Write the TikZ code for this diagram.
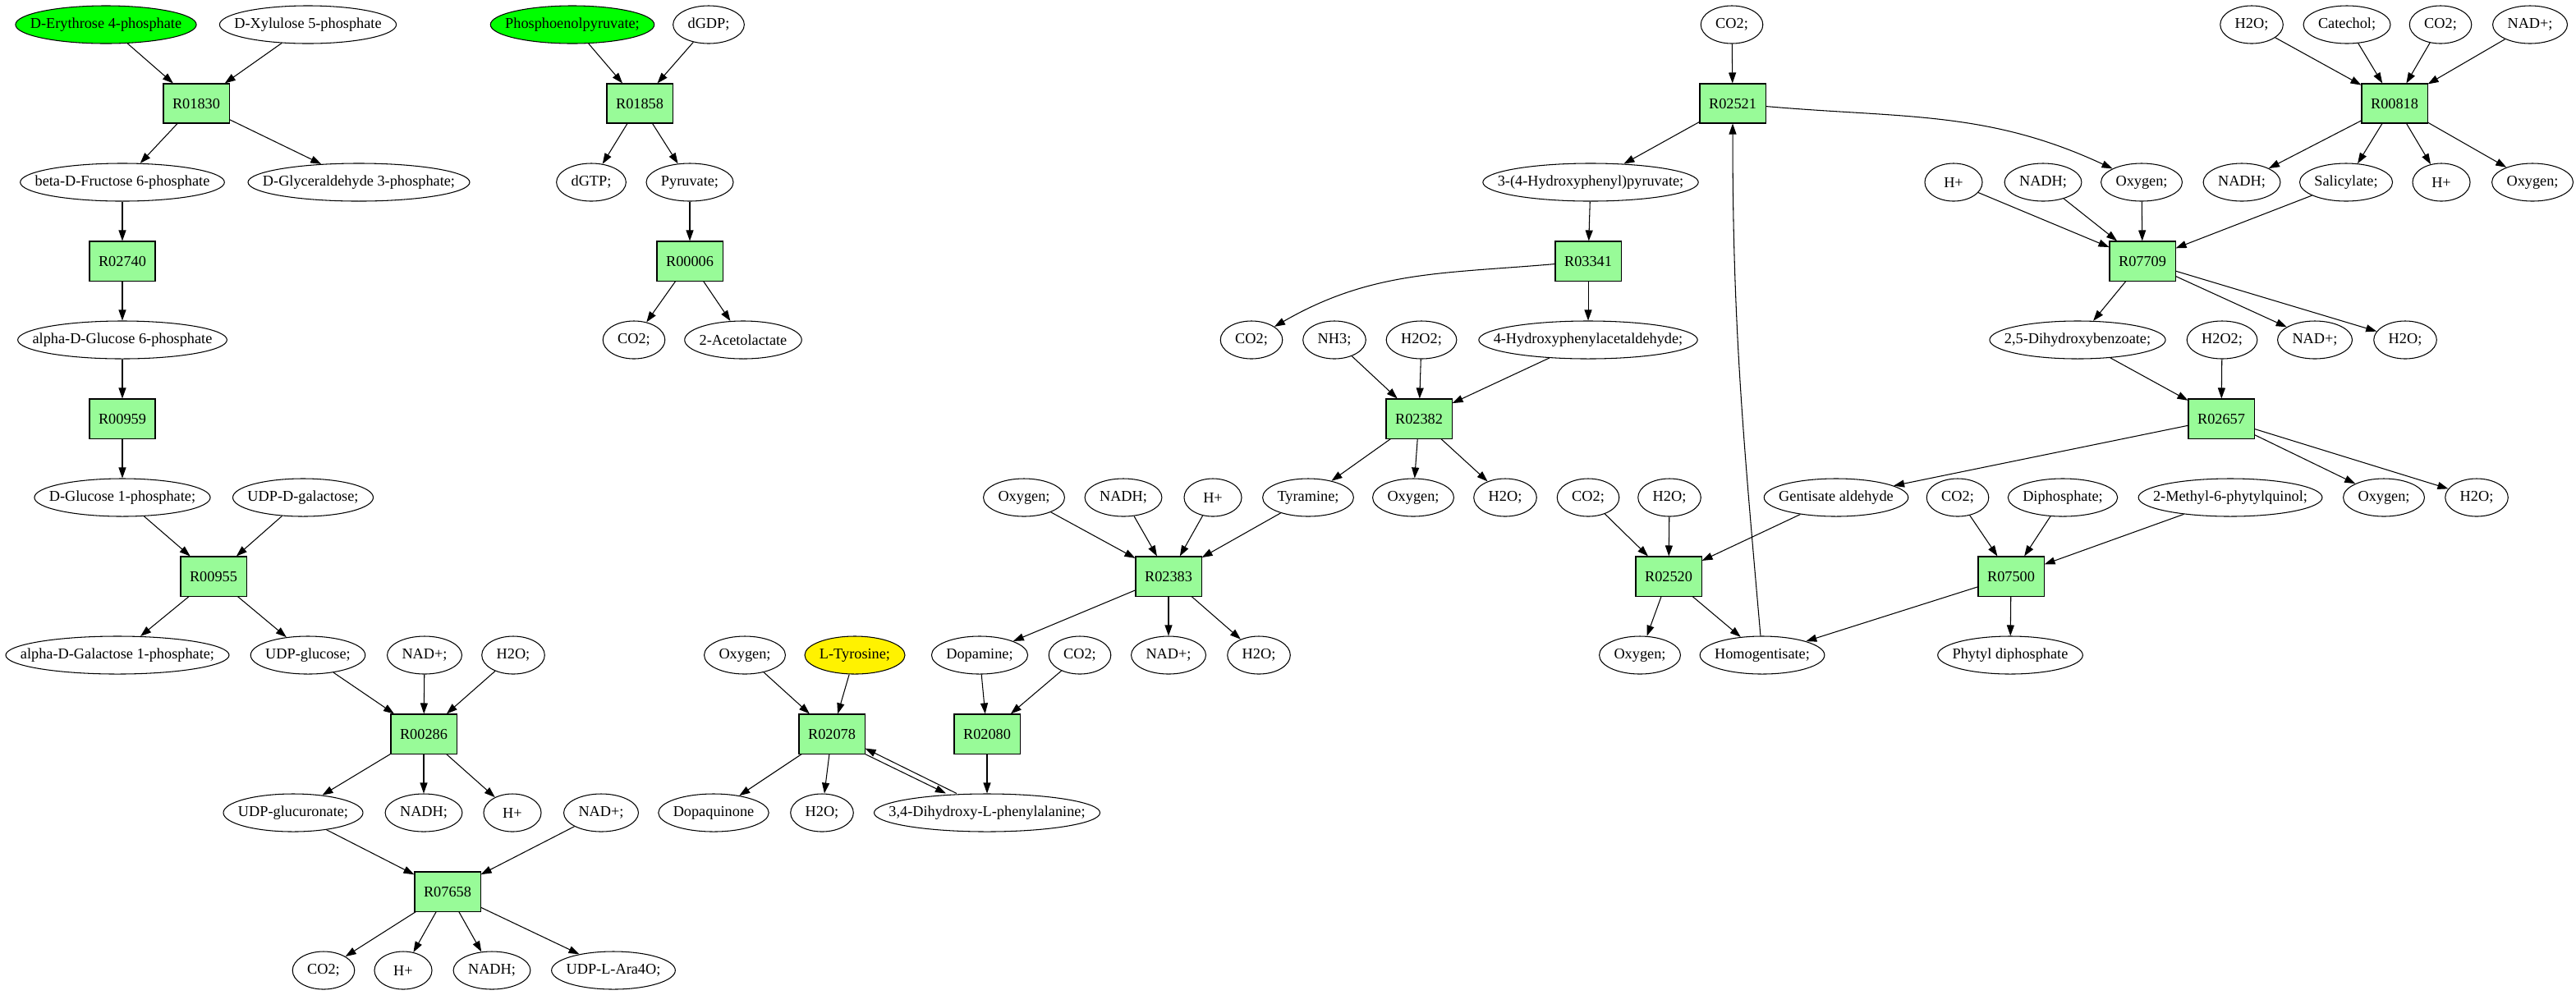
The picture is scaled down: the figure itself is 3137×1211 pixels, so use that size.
\documentclass[tikz,border=0pt]{standalone}
\usepackage{fontspec}
\setmainfont{Liberation Serif}
\usetikzlibrary{arrows.meta,shapes.geometric}
\definecolor{palegreen}{RGB}{152,251,152}
\newsavebox\lblbox

\begin{document}
\begin{tikzpicture}[->,>={Triangle[length=0.13cm,width=0.09cm]},x=0.01cm,y=-0.01cm,line width=0.3pt,
    font=\fontsize{5.2pt}{6pt}\selectfont,
    met/.style={ellipse,draw,minimum width=0.7cm,minimum height=0.46cm,inner ysep=0pt,inner xsep=0.127cm,
        execute at begin node={\setbox\lblbox=\hbox\bgroup},
        execute at end node={\egroup\hbox to 0.707\wd\lblbox{\hss\box\lblbox\hss}}},
    rxn/.style={rectangle,draw,fill=palegreen,minimum width=0.8cm,minimum height=0.48cm,inner sep=0pt}]
    \useasboundingbox (0,0) rectangle (3137,1211);

    % sugar phosphates
    \node[met,fill=green] (e4p) at (129,30) {D-Erythrose 4-phosphate};
    \node[met] (xu5p) at (375,30) {D-Xylulose 5-phosphate};
    \node[rxn] (r01830) at (239,126) {R01830};
    \node[met] (f6p) at (149,222) {beta-D-Fructose 6-phosphate};
    \node[met] (ga3p) at (437,222) {D-Glyceraldehyde 3-phosphate;};
    \node[rxn] (r02740) at (149,318) {R02740};
    \node[met] (g6p) at (149,414) {alpha-D-Glucose 6-phosphate};
    \node[rxn] (r00959) at (149,510) {R00959};
    \node[met] (g1p) at (149,606) {D-Glucose 1-phosphate;};
    \node[met] (udpgal) at (369,606) {UDP-D-galactose;};
    \node[rxn] (r00955) at (260,702) {R00955};
    \node[met] (gal1p) at (143,798) {alpha-D-Galactose 1-phosphate;};
    \node[met] (udpglc) at (375,798) {UDP-glucose;};
    \node[met] (nad1) at (517,798) {NAD+;};
    \node[met] (w1) at (625,798) {H2O;};
    \node[rxn] (r00286) at (516,894) {R00286};
    \node[met] (udpgca) at (357,990) {UDP-glucuronate;};
    \node[met] (nadh1) at (516,990) {NADH;};
    \node[met] (hp1) at (624,990) {H+};
    \node[met] (nad2) at (732,990) {NAD+;};
    \node[rxn] (r07658) at (545,1086) {R07658};
    \node[met] (co2a) at (394,1182) {CO2;};
    \node[met] (hp2) at (491,1182) {H+};
    \node[met] (nadh2) at (599,1182) {NADH;};
    \node[met] (ara4o) at (747,1182) {UDP-L-Ara4O;};

    % pyruvate
    \node[met,fill=green] (pep) at (697,30) {Phosphoenolpyruvate;};
    \node[met] (dgdp) at (863,30) {dGDP;};
    \node[rxn] (r01858) at (779,126) {R01858};
    \node[met] (dgtp) at (720,222) {dGTP;};
    \node[met] (pyr) at (840,222) {Pyruvate;};
    \node[rxn] (r00006) at (840,318) {R00006};
    \node[met] (co2b) at (772,414) {CO2;};
    \node[met] (acl) at (905,414) {2-Acetolactate};

    % tyrosine
    \node[met] (o2a) at (1247,606) {Oxygen;};
    \node[met] (nadh3) at (1368,606) {NADH;};
    \node[met] (hp3) at (1477,606) {H+};
    \node[met] (tyra) at (1593,606) {Tyramine;};
    \node[rxn] (r02383) at (1423,702) {R02383};
    \node[met] (o2b) at (907,798) {Oxygen;};
    \node[met,fill=yellow] (tyr) at (1041,798) {L-Tyrosine;};
    \node[met] (dopam) at (1193,798) {Dopamine;};
    \node[met] (co2c) at (1315,798) {CO2;};
    \node[met] (nad3) at (1423,798) {NAD+;};
    \node[met] (w2) at (1533,798) {H2O;};
    \node[rxn] (r02078) at (1013,894) {R02078};
    \node[rxn] (r02080) at (1202,894) {R02080};
    \node[met] (dq) at (869,990) {Dopaquinone};
    \node[met] (w3) at (1001,990) {H2O;};
    \node[met] (ldopa) at (1202,990) {3,4-Dihydroxy-L-phenylalanine;};

    % homogentisate
    \node[met] (co2d) at (2109,30) {CO2;};
    \node[rxn] (r02521) at (2110,126) {R02521};
    \node[met] (hpp) at (1937,222) {3-(4-Hydroxyphenyl)pyruvate;};
    \node[rxn] (r03341) at (1934,318) {R03341};
    \node[met] (co2e) at (1524,414) {CO2;};
    \node[met] (nh3) at (1625,414) {NH3;};
    \node[met] (px1) at (1731,414) {H2O2;};
    \node[met] (hpa) at (1934,414) {4-Hydroxyphenylacetaldehyde;};
    \node[rxn] (r02382) at (1728,510) {R02382};
    \node[met] (o2c) at (1721,606) {Oxygen;};
    \node[met] (w4) at (1833,606) {H2O;};
    \node[met] (co2f) at (1934,606) {CO2;};
    \node[met] (w5) at (2033,606) {H2O;};
    \node[rxn] (r02520) at (2032,702) {R02520};
    \node[met] (o2d) at (1997,798) {Oxygen;};
    \node[met] (hgn) at (2146,798) {Homogentisate;};

    % salicylate
    \node[met] (w6) at (2742,30) {H2O;};
    \node[met] (catl) at (2858,30) {Catechol;};
    \node[met] (co2g) at (2972,30) {CO2;};
    \node[met] (nad4) at (3081,30) {NAD+;};
    \node[rxn] (r00818) at (2916,126) {R00818};
    \node[met] (hp4) at (2379,222) {H+};
    \node[met] (nadh4) at (2488,222) {NADH;};
    \node[met] (o2e) at (2608,222) {Oxygen;};
    \node[met] (nadh5) at (2730,222) {NADH;};
    \node[met] (sal) at (2857,222) {Salicylate;};
    \node[met] (hp5) at (2973,222) {H+};
    \node[met] (o2f) at (3084,222) {Oxygen;};
    \node[rxn] (r07709) at (2609,318) {R07709};
    \node[met] (dhb) at (2530,414) {2,5-Dihydroxybenzoate;};
    \node[met] (px2) at (2706,414) {H2O2;};
    \node[met] (nad5) at (2819,414) {NAD+;};
    \node[met] (w7) at (2929,414) {H2O;};
    \node[rxn] (r02657) at (2705,510) {R02657};
    \node[met] (gald) at (2236,606) {Gentisate aldehyde};
    \node[met] (co2h) at (2384,606) {CO2;};
    \node[met] (ppi) at (2512,606) {Diphosphate;};
    \node[met] (mpq) at (2716,606) {2-Methyl-6-phytylquinol;};
    \node[met] (o2g) at (2903,606) {Oxygen;};
    \node[met] (w8) at (3016,606) {H2O;};
    \node[rxn] (r07500) at (2449,702) {R07500};
    \node[met] (phpp) at (2448,798) {Phytyl diphosphate};

    \path
        (e4p) edge (r01830)
        (xu5p) edge (r01830)
        (r01830) edge (f6p)
        (r01830) edge (ga3p)
        (f6p) edge (r02740)
        (r02740) edge (g6p)
        (g6p) edge (r00959)
        (r00959) edge (g1p)
        (g1p) edge (r00955)
        (udpgal) edge (r00955)
        (r00955) edge (gal1p)
        (r00955) edge (udpglc)
        (udpglc) edge (r00286)
        (nad1) edge (r00286)
        (w1) edge (r00286)
        (r00286) edge (udpgca)
        (r00286) edge (nadh1)
        (r00286) edge (hp1)
        (udpgca) edge (r07658)
        (nad2) edge (r07658)
        (r07658) edge (co2a)
        (r07658) edge (hp2)
        (r07658) edge (nadh2)
        (r07658) edge (ara4o)

        (pep) edge (r01858)
        (dgdp) edge (r01858)
        (r01858) edge (dgtp)
        (r01858) edge (pyr)
        (pyr) edge (r00006)
        (r00006) edge (co2b)
        (r00006) edge (acl)

        (o2a) edge (r02383)
        (nadh3) edge (r02383)
        (hp3) edge (r02383)
        (tyra) edge (r02383)
        (r02383) edge (dopam)
        (r02383) edge (nad3)
        (r02383) edge (w2)
        (o2b) edge (r02078)
        (tyr) edge (r02078)
        (dopam) edge (r02080)
        (co2c) edge (r02080)
        (r02078) edge (dq)
        (r02078) edge (w3)
        (r02078.south east) edge ([xshift=-0.5cm]ldopa.north)
        ([xshift=-0.37cm]ldopa.north) edge ([yshift=0.07cm]r02078.south east)
        (r02080) edge (ldopa)

        (co2d) edge (r02521)
        (r02521) edge (hpp)
        (r02521) edge[out=-5,in=155] (o2e)
        (hpp) edge (r03341)
        (r03341) edge[out=185,in=30] (co2e)
        (r03341) edge (hpa)
        (nh3) edge (r02382)
        (px1) edge (r02382)
        (hpa) edge (r02382)
        (r02382) edge (tyra)
        (r02382) edge (o2c)
        (r02382) edge (w4)
        (co2f) edge (r02520)
        (w5) edge (r02520)
        (gald) edge (r02520)
        (r02520) edge (o2d)
        (r02520) edge (hgn)
        (hgn) edge[out=95,in=-90] (r02521)

        (w6) edge (r00818)
        (catl) edge (r00818)
        (co2g) edge (r00818)
        (nad4) edge (r00818)
        (r00818) edge (nadh5)
        (r00818) edge (sal)
        (r00818) edge (hp5)
        (r00818) edge (o2f)
        (hp4) edge (r07709)
        (nadh4) edge (r07709)
        (o2e) edge (r07709)
        (sal) edge (r07709)
        (r07709) edge (dhb)
        (r07709) edge (nad5)
        (r07709) edge (w7)
        (dhb) edge (r02657)
        (px2) edge (r02657)
        (r02657) edge (gald)
        (r02657) edge (o2g)
        (r02657) edge (w8)
        (co2h) edge (r07500)
        (ppi) edge (r07500)
        (mpq) edge (r07500)
        (r07500) edge (hgn)
        (r07500) edge (phpp);
\end{tikzpicture}
\end{document}
